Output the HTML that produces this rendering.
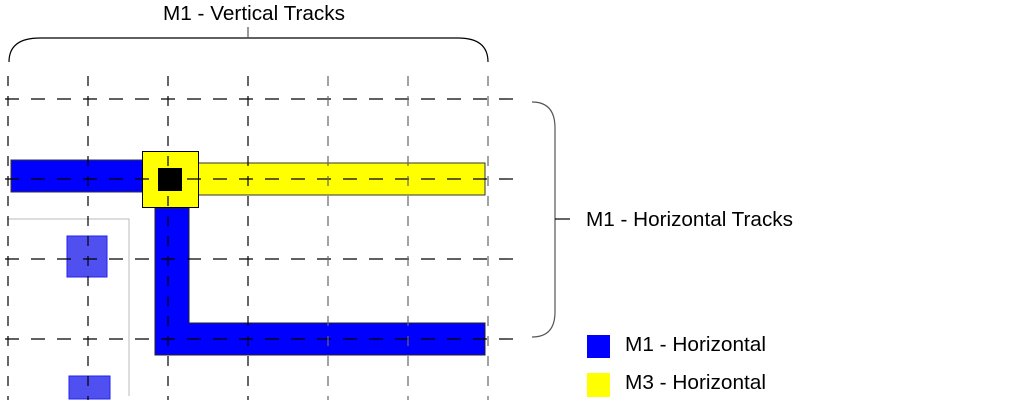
<!DOCTYPE html>
<html><head><meta charset="utf-8"><style>
html,body{margin:0;padding:0;background:#fff;width:1013px;height:415px;overflow:hidden}
text{font-family:"Liberation Sans",sans-serif;fill:#000}
</style></head><body>
<svg width="1013" height="415" xmlns="http://www.w3.org/2000/svg">
<path d="M9,62 Q9,38 40,38 L458,38 Q488,38 488,62" fill="none" stroke="#000" stroke-width="1.2"/>
<line x1="248" y1="38" x2="248" y2="27" stroke="#555" stroke-width="1.2"/>
<text x="163" y="20" font-size="20" textLength="182" lengthAdjust="spacingAndGlyphs">M1 - Vertical Tracks</text>
<path d="M532,102 Q555,102 555,128 L555,312 Q555,337 532,337" fill="none" stroke="#555" stroke-width="1.2"/>
<line x1="555" y1="219" x2="570" y2="219" stroke="#000" stroke-width="1.2"/>
<text x="586" y="226" font-size="20" textLength="207" lengthAdjust="spacingAndGlyphs">M1 - Horizontal Tracks</text>
<path d="M7,219 L129,219 L129,396" fill="none" stroke="#bbb" stroke-width="1"/>
<rect x="11" y="160" width="133" height="32" fill="#0000ff" stroke="#333" stroke-width="1"/>
<rect x="198" y="163" width="287" height="32" fill="#ffff00" stroke="#333" stroke-width="1"/>
<path d="M155,208 L189,208 L189,323 L485,323 L485,355 L155,355 Z" fill="#0000ff" stroke="#223" stroke-width="1"/>
<rect x="142.5" y="151.5" width="56" height="56" fill="#ffff00" stroke="#000" stroke-width="1"/>
<rect x="158" y="168" width="24" height="23" fill="#000"/>
<rect x="67" y="236" width="40" height="41" fill="#5050f0" stroke="#2222ee" stroke-width="1"/>
<rect x="69" y="376" width="41" height="23" fill="#5050f0" stroke="#2222ee" stroke-width="1"/>
<g stroke="#000" stroke-width="1.2" stroke-dasharray="14,12" fill="none">
<line x1="5" y1="99" x2="515" y2="99"/>
<line x1="5" y1="179" x2="515" y2="179"/>
<line x1="5" y1="259" x2="515" y2="259"/>
<line x1="5" y1="339" x2="515" y2="339"/>
</g>
<g stroke="#000" stroke-width="1.2" stroke-dasharray="10,10" fill="none">
<line x1="8" y1="76" x2="8" y2="400"/>
<line x1="88" y1="76" x2="88" y2="400"/>
<line x1="168" y1="76" x2="168" y2="400"/>
<line x1="248" y1="76" x2="248" y2="400"/>
</g>
<g stroke="#666" stroke-width="1.2" stroke-dasharray="10,10" fill="none">
<line x1="328" y1="76" x2="328" y2="400"/>
<line x1="408" y1="76" x2="408" y2="400"/>
<line x1="488" y1="76" x2="488" y2="400"/>
</g>
<rect x="587" y="335" width="23" height="23" fill="#0000ff"/>
<text x="625" y="351" font-size="20" textLength="141" lengthAdjust="spacingAndGlyphs">M1 - Horizontal</text>
<rect x="587" y="373" width="23" height="24" fill="#ffff00"/>
<text x="625" y="389" font-size="20" textLength="141" lengthAdjust="spacingAndGlyphs">M3 - Horizontal</text>
</svg>
</body></html>
